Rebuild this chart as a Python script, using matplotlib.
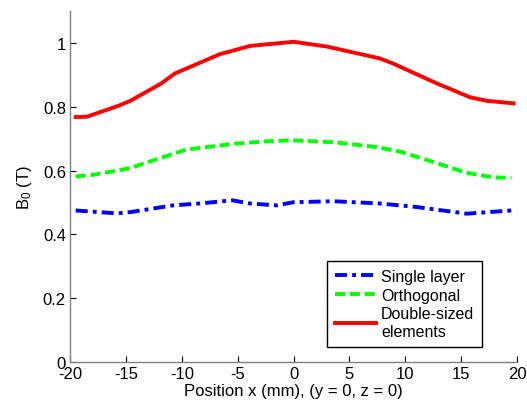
import matplotlib
matplotlib.use("Agg")
from matplotlib import pyplot as plt
from matplotlib.ticker import FuncFormatter

# values
single_x = [-19.5, -15.8, -14.6, -10.8, -8.4, -5.5, -3.9, -1.5, 0.0, 3.6, 7.7, 11.0, 15.5, 19.5]
single_b = [0.475, 0.466, 0.470, 0.491, 0.497, 0.507, 0.497, 0.491, 0.501, 0.504, 0.497, 0.486, 0.465, 0.475]

ortho_x = [-19.5, -17.9, -14.6, -13.7, -9.6, -5.4, -2.4, 0.0, 3.6, 7.4, 9.5, 11.9, 15.5, 17.9, 19.5]
ortho_b = [0.582, 0.587, 0.608, 0.619, 0.666, 0.684, 0.692, 0.695, 0.689, 0.674, 0.660, 0.634, 0.593, 0.579, 0.577]

double_x = [-19.5, -18.5, -15.7, -14.6, -11.9, -10.6, -6.6, -3.9, -1.5, 0.0, 3.0,
            7.7, 8.9, 12.8, 15.8, 17.3, 19.7]
double_b = [0.768, 0.769, 0.803, 0.819, 0.872, 0.905, 0.965, 0.991, 0.999, 1.004, 0.989,
            0.952, 0.936, 0.874, 0.830, 0.819, 0.811]

labels = ["Single layer", "Orthogonal", "Double-sized\nelements"]

plt.rcParams["font.family"] = ["Liberation Sans", "DejaVu Sans"]
plt.rcParams["mathtext.default"] = "regular"
plt.rcParams["axes.unicode_minus"] = False
plt.rcParams["font.size"] = 12

figure = plt.figure(figsize=(5.27, 4.06), dpi=100)
axis = figure.add_axes([0.133, 0.106, 0.848, 0.864])

axis.plot(single_x, single_b, color="#0000ff", linewidth=2.8,
          dashes=(3.1, 1.3, 1.0, 1.3), label=labels[0])
axis.plot(ortho_x, ortho_b, color="#00ff00", linewidth=2.8,
          dashes=(2.6, 1.2), label=labels[1])
axis.plot(double_x, double_b, color="#ff0000", linewidth=2.8, label=labels[2])

axis.set_xlim(-20, 20)
axis.set_ylim(0, 1.1)
axis.set_xticks(range(-20, 21, 5))
axis.set_yticks([0, 0.2, 0.4, 0.6, 0.8, 1.0])
axis.yaxis.set_major_formatter(FuncFormatter(lambda v, _: f"{v:g}"))

for side in ("top", "right"):
    axis.spines[side].set_visible(False)
for side in ("left", "bottom"):
    axis.spines[side].set_color("#808080")
    axis.spines[side].set_linewidth(1.0)
axis.tick_params(direction="in", length=4, width=0.8, color="black",
                 labelsize=12, pad=3)

axis.set_xlabel("Position x (mm), (y = 0, z = 0)", fontsize=12, labelpad=1)
axis.set_ylabel("B$_0$ (T)", fontsize=12, labelpad=6)

legend = axis.legend(loc="lower right", bbox_to_anchor=(0.922, 0.043),
                     borderaxespad=0.0, fontsize=11.5, handlelength=2.6,
                     handletextpad=0.3, borderpad=0.5, labelspacing=0.25,
                     fancybox=False, edgecolor="black", framealpha=1.0)
legend.get_frame().set_linewidth(1.0)

figure.savefig("out.png", dpi=100)
plt.close(figure)
